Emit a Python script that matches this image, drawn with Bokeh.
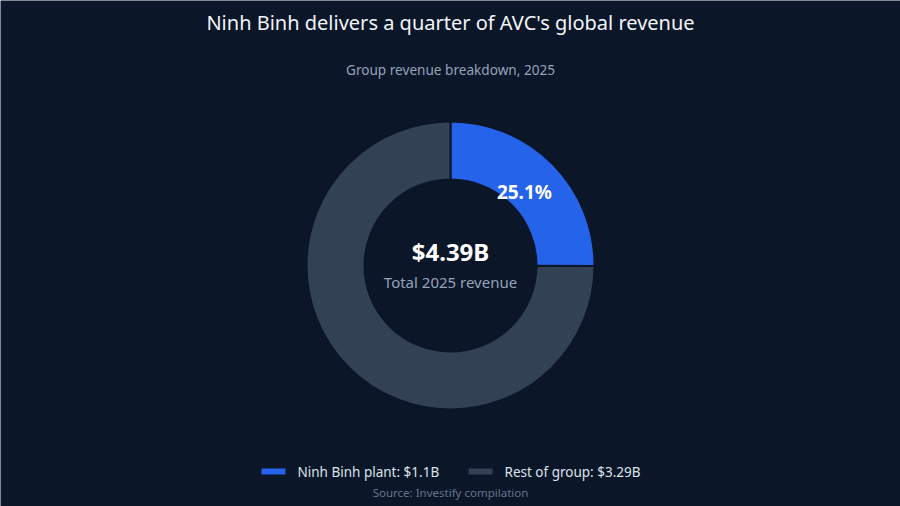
from bokeh.plotting import figure
from bokeh.models import Range1d
from bokeh.core.properties import value
from bokeh.embed import file_html
from bokeh.resources import INLINE
import numpy as np

# data
labels = ["Ninh Binh plant", "Rest of group"]
revenue = [1.1, 3.29]  # $B, 2025
colors = ["#2563eb", "#334155"]

BG = "#0b1628"
FONT = value("Noto Sans")

total = sum(revenue)
shares = [v / total for v in revenue]

W, H = 900, 506
p = figure(width=W, height=H, output_backend="svg", toolbar_location=None,
           x_range=Range1d(0, W), y_range=Range1d(0, H),
           min_border=0, background_fill_color=BG, border_fill_color=BG,
           outline_line_color=None)
p.axis.visible = False
p.grid.visible = False

def sy(y):
    # screen y (from top) -> data y
    return H - y

# donut, clockwise from 12 o'clock
cx, cy = 450, sy(265)
ends = 90 - np.cumsum([0] + shares) * 360
for i in range(len(revenue)):
    p.annular_wedge(x=cx, y=cy, inner_radius=86, outer_radius=144,
                    start_angle=np.deg2rad(ends[i + 1]), end_angle=np.deg2rad(ends[i]),
                    fill_color=colors[i], line_color=BG, line_width=2)

# share label in blue slice
mid = np.deg2rad((ends[0] + ends[1]) / 2)
rl = 110
p.text(x=[cx + rl * np.cos(mid) - 4], y=[cy + rl * np.sin(mid) - 4],
       text=["%.1f%%" % (shares[0] * 100)], text_align="center", text_baseline="middle",
       text_font=FONT, text_font_size="19px", text_font_style="bold", text_color="white")

# center texts
p.text(x=[cx], y=[sy(251)], text=["$%.2fB" % total], text_align="center",
       text_baseline="middle", text_font=FONT, text_font_size="24px",
       text_font_style="bold", text_color="white")
p.text(x=[cx], y=[sy(281)], text=["Total 2025 revenue"], text_align="center",
       text_baseline="middle", text_font=FONT, text_font_size="15px", text_color="#94a3b8")

# title / subtitle
p.text(x=[450], y=[sy(22)], text=["Ninh Binh delivers a quarter of AVC's global revenue"],
       text_align="center", text_baseline="middle", text_font=FONT,
       text_font_size="20px", text_color="#f1f5f9")
p.text(x=[450], y=[sy(69)], text=["Group revenue breakdown, 2025"],
       text_align="center", text_baseline="middle", text_font=FONT,
       text_font_size="13.6px", text_color="#94a3b8")

# legend
leg_x = [261, 468]
leg_text = ["%s: $%sB" % (labels[i], ("%.2f" % revenue[i]).rstrip("0").rstrip(".")) for i in range(2)]
p.rect(x=[x + 12 for x in leg_x], y=[sy(471)] * 2, width=24, height=6,
       fill_color=colors, line_color=None)
p.text(x=[x + 36 for x in leg_x], y=[sy(471)] * 2, text=leg_text,
       text_align="left", text_baseline="middle", text_font=FONT,
       text_font_size="13.5px", text_color="#dbe2ea")

p.text(x=[450], y=[sy(492)], text=["Source: Investify compilation"],
       text_align="center", text_baseline="middle", text_font=FONT,
       text_font_size="11.5px", text_color="#64748b")

open("out.html", "w").write(file_html(p, INLINE))
